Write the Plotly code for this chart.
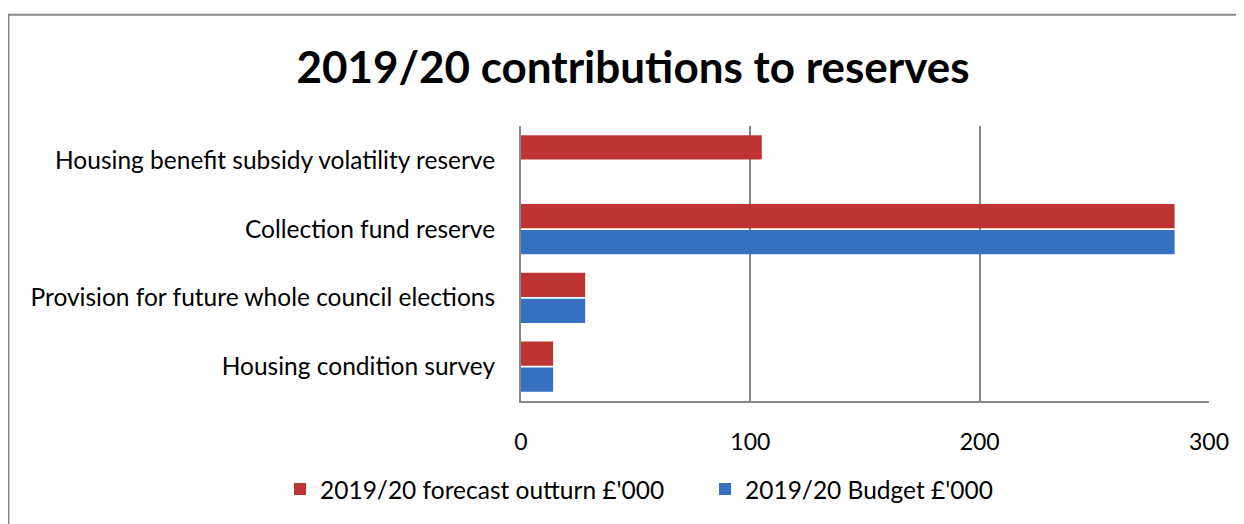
import plotly.graph_objects as go

categories = ["Housing condition survey",
              "Provision for future whole council elections",
              "Collection fund reserve",
              "Housing benefit subsidy volatility reserve"]
forecast = [14, 28, 285, 105]
budget = [14, 28, 285, 0]
x_ticks = [0, 100, 200, 300]

FONT = "Lato"
red = "#BD3533"
blue = "#3670BF"

fig = go.Figure()
fig.add_trace(go.Bar(y=categories, x=budget, orientation="h",
                     name="2019/20 Budget £'000", marker=dict(color=blue, line=dict(width=0)),
                     legendrank=2))
fig.add_trace(go.Bar(y=categories, x=forecast, orientation="h",
                     name="2019/20 forecast outturn £'000", marker=dict(color=red, line=dict(width=0)),
                     legendrank=1))

OFF = 8  # page body margin
W, H = 1244 - OFF, 524 - OFF
L, R, T, B = 521 - OFF, 35, 126 - OFF, 120
pw, ph = W - L - R, H - T - B

def px(x):  # page x -> paper
    return (x - OFF - L) / pw

def py(y):  # page y -> paper
    return (H - B - (y - OFF)) / ph

fig.update_layout(
    width=W, height=H,
    margin=dict(l=L, r=R, t=T, b=B),
    paper_bgcolor="white", plot_bgcolor="white",
    barmode="group", bargap=0.237, bargroupgap=0.075,
    font=dict(family=FONT, size=24, color="#000000"),
    title=dict(text="<b>2019/20 contributions to reserves</b>",
               font=dict(family=FONT, size=44, color="#000000"),
               x=(633 - OFF) / W, xanchor="center", xref="container",
               y=1 - (68 - OFF) / H, yanchor="middle", yref="container"),
    xaxis=dict(range=[0, 300], tickvals=x_ticks, showgrid=True,
               gridcolor="#868686", gridwidth=1.5, showline=True,
               linecolor="#868686", linewidth=2, zeroline=False,
               ticks="", ticklabelstandoff=19,
               tickfont=dict(family=FONT, size=23)),
    yaxis=dict(showline=True, linecolor="#868686", linewidth=2,
               showgrid=False, ticks="", ticklabelstandoff=19,
               tickfont=dict(family=FONT, size=24.5)),
    legend=dict(orientation="h", x=px(280), xanchor="left",
                y=py(493), yanchor="middle",
                font=dict(family=FONT, size=24.5),
                itemwidth=30, entrywidth=380, traceorder="normal"),
    shapes=[dict(type="rect", xref="paper", yref="paper",
                 x0=px(8.5), x1=px(1300), y0=py(600), y1=py(13.5),
                 line=dict(color="#888888", width=2), fillcolor="rgba(0,0,0,0)",
                 layer="below")],
)

fig.write_html("out.html")
